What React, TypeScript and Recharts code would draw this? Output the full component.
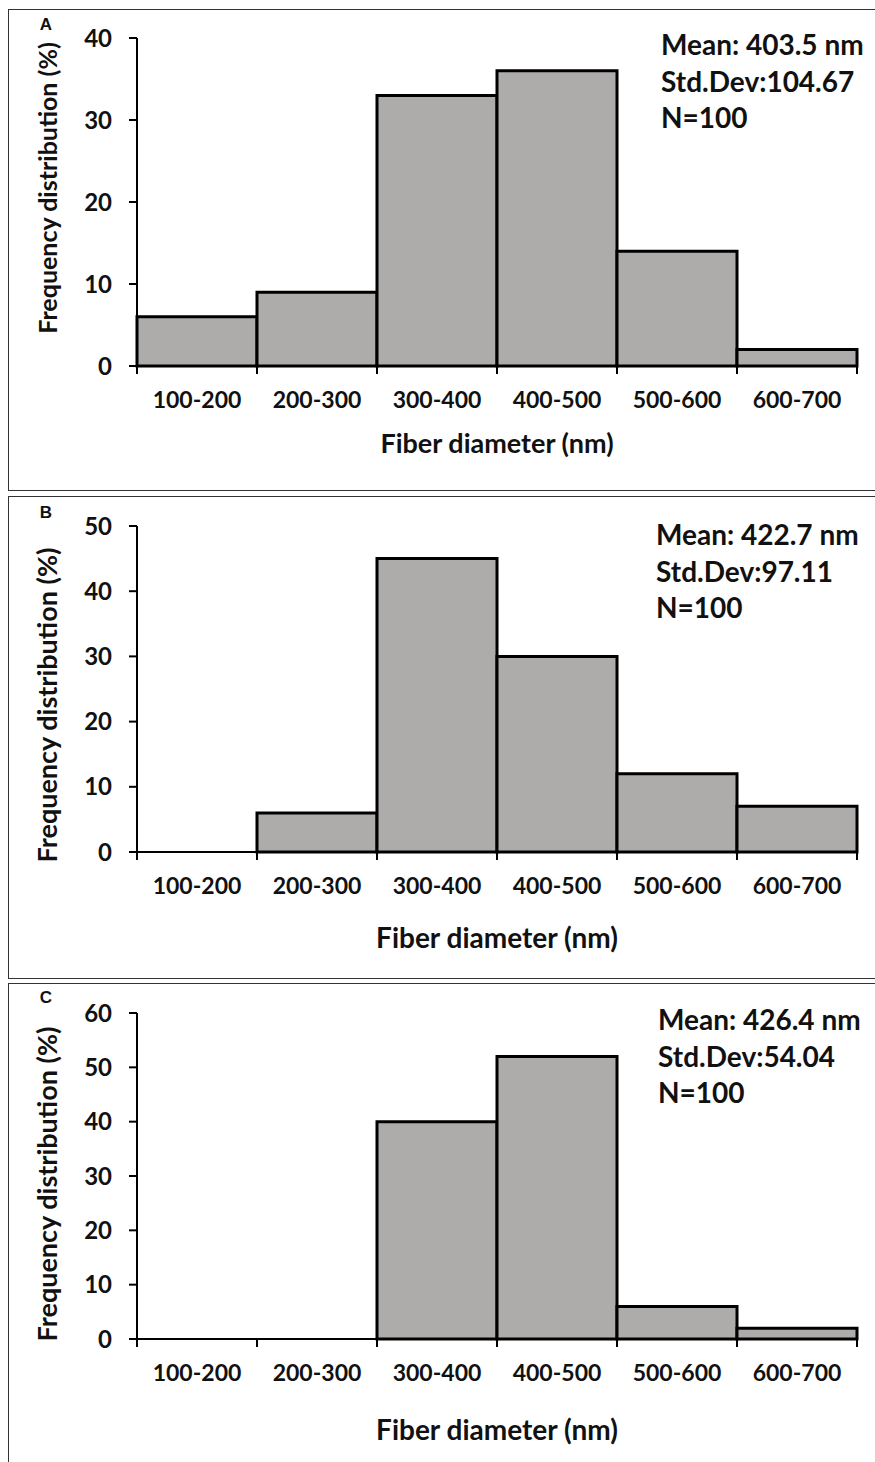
import React from 'react';
import { BarChart, Bar, XAxis, YAxis } from 'recharts';

// ---------- data ----------
const categories = ['100-200', '200-300', '300-400', '400-500', '500-600', '600-700'];
const valuesA = [6, 9, 33, 36, 14, 2];
const valuesB = [0, 6, 45, 30, 12, 7];
const valuesC = [0, 0, 40, 52, 6, 2];
const ticksA = [0, 10, 20, 30, 40];
const ticksB = [0, 10, 20, 30, 40, 50];
const ticksC = [0, 10, 20, 30, 40, 50, 60];
const statsA = ['Mean: 403.5 nm', 'Std.Dev:104.67', 'N=100'];
const statsB = ['Mean: 422.7 nm', 'Std.Dev:97.11', 'N=100'];
const statsC = ['Mean: 426.4 nm', 'Std.Dev:54.04', 'N=100'];
const panelLetters = ['A', 'B', 'C'];
const xTitle = 'Fiber diameter (nm)';
const yTitle = 'Frequency distribution (%)';

// ---------- layout ----------
const PAGE_W = 875;
const PAGE_H = 1462;
const FONT = 'Lato, "Open Sans", sans-serif';
const PLOT_LEFT = 137;
const PLOT_RIGHT = 857;
const Y_AXIS_W = 60;
const BAND = (PLOT_RIGHT - PLOT_LEFT) / categories.length;

type Layout = {
  boxTop: number; boxBottom: number; plotTop: number; plotBottom: number;
  statsX: number; statsBaseline: number; letterBaseline: number;
  yTitleCenter: number; yTitleSize: number; xTitleBaseline: number; xTitleSize: number;
};

const layouts: Layout[] = [
  { boxTop: 9, boxBottom: 491, plotTop: 38, plotBottom: 366, statsX: 661, statsBaseline: 55, letterBaseline: 30, yTitleCenter: 188, yTitleSize: 25, xTitleBaseline: 453, xTitleSize: 27 },
  { boxTop: 496, boxBottom: 979, plotTop: 526, plotBottom: 852, statsX: 656, statsBaseline: 545, letterBaseline: 518, yTitleCenter: 705, yTitleSize: 27, xTitleBaseline: 948, xTitleSize: 28 },
  { boxTop: 983, boxBottom: 1475, plotTop: 1013, plotBottom: 1339, statsX: 658, statsBaseline: 1030, letterBaseline: 1003, yTitleCenter: 1184, yTitleSize: 27, xTitleBaseline: 1440, xTitleSize: 28 },
];

const panels = [
  { values: valuesA, ticks: ticksA, stats: statsA },
  { values: valuesB, ticks: ticksB, stats: statsB },
  { values: valuesC, ticks: ticksC, stats: statsC },
];

const lastCategory = categories[categories.length - 1];

const XTick = (props: any) => {
  const { x, y, payload } = props;
  const isLast = payload.value === lastCategory;
  return (
    <g>
      <line x1={x - BAND / 2} x2={x - BAND / 2} y1={y} y2={y + 8} stroke="#000" strokeWidth={2} />
      {isLast && <line x1={x + BAND / 2} x2={x + BAND / 2} y1={y} y2={y + 8} stroke="#000" strokeWidth={2} />}
      <text x={x} y={y + 42} textAnchor="middle" fontFamily={FONT} fontWeight={700} fontSize={23} fill="#111">
        {payload.value}
      </text>
    </g>
  );
};

const TOP_PAD = 20;
const BOTTOM_PAD = 60;

const Panel = ({ idx }: { idx: number }) => {
  const L = layouts[idx];
  const P = panels[idx];
  const data = categories.map((c, i) => ({ range: c, value: P.values[i] }));
  const chartTop = L.plotTop - TOP_PAD;
  const chartH = L.plotBottom - L.plotTop + TOP_PAD + BOTTOM_PAD;
  const yMax = P.ticks[P.ticks.length - 1];
  return (
    <div style={{ position: 'absolute', left: 0, top: chartTop }}>
      <BarChart
        width={PAGE_W}
        height={chartH}
        data={data}
        margin={{ top: TOP_PAD, right: PAGE_W - PLOT_RIGHT, bottom: 0, left: PLOT_LEFT - Y_AXIS_W }}
        barCategoryGap={0}
        barGap={0}
      >
        <XAxis
          dataKey="range"
          type="category"
          interval={0}
          height={BOTTOM_PAD}
          tickLine={false}
          tickSize={0}
          tickMargin={0}
          axisLine={{ stroke: '#000', strokeWidth: 2 }}
          tick={<XTick />}
        />
        <YAxis
          type="number"
          domain={[0, yMax]}
          ticks={P.ticks}
          interval={0}
          width={Y_AXIS_W}
          tickSize={8}
          tickMargin={17}
          axisLine={{ stroke: '#000', strokeWidth: 2 }}
          tickLine={{ stroke: '#000', strokeWidth: 2 }}
          tick={{ fill: '#111', fontFamily: FONT, fontWeight: 700, fontSize: 24 }}
        />
        <Bar dataKey="value" fill="#aeabab" stroke="#000" strokeWidth={3} isAnimationActive={false} />
      </BarChart>
    </div>
  );
};

export default function App() {
  return (
    <div style={{ position: 'absolute', left: 0, top: 0, width: PAGE_W, height: PAGE_H, overflow: 'hidden', background: '#fff' }}>
      {layouts.map((L, i) => (
        <div
          key={'box' + i}
          style={{
            position: 'absolute', left: 8, top: L.boxTop, width: PAGE_W + 20, height: L.boxBottom - L.boxTop,
            border: '1.5px solid #333', boxSizing: 'border-box',
          }}
        />
      ))}
      {layouts.map((_, i) => <Panel key={'p' + i} idx={i} />)}
      <svg width={PAGE_W} height={PAGE_H} style={{ position: 'absolute', left: 0, top: 0, pointerEvents: 'none' }}>
        {layouts.map((L, i) => (
          <g key={'t' + i} fontFamily={FONT} fontWeight={700} fill="#111">
            <text x={46} y={L.letterBaseline} textAnchor="middle" fontFamily='"Liberation Sans", Arial, sans-serif' fontSize={17}>
              {panelLetters[i]}
            </text>
            {panels[i].stats.map((s, j) => (
              <text key={j} x={L.statsX} y={L.statsBaseline + j * 36.5} fontSize={28}>{s}</text>
            ))}
            <text x={(PLOT_LEFT + PLOT_RIGHT) / 2} y={L.xTitleBaseline} textAnchor="middle" fontSize={L.xTitleSize}>{xTitle}</text>
            <text
              x={57}
              y={L.yTitleCenter}
              textAnchor="middle"
              fontSize={L.yTitleSize}
              transform={`rotate(-90 57 ${L.yTitleCenter})`}
            >
              {yTitle}
            </text>
          </g>
        ))}
      </svg>
    </div>
  );
}
